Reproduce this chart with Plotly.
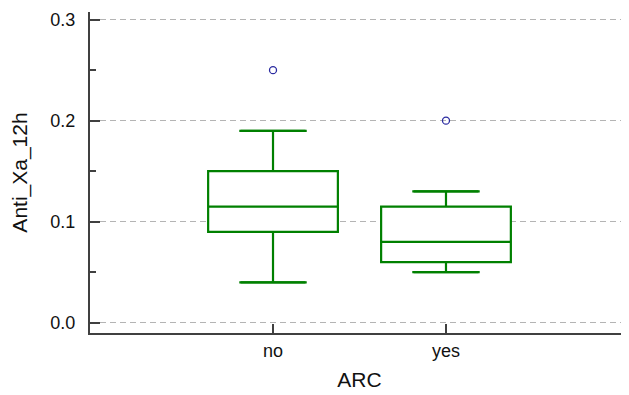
import plotly.graph_objects as go

categories = ["no", "yes"]
lower_whisker = [0.04, 0.05]
q1 = [0.09, 0.06]
median = [0.115, 0.08]
q3 = [0.15, 0.115]
upper_whisker = [0.19, 0.13]
outliers = [[0.25], [0.20]]

y_tickvals = [0.0, 0.1, 0.2, 0.3]
y_ticktext = ["0.0", "0.1", "0.2", "0.3"]

GREEN = "#008000"
AXIS = "#404040"
FONT = "Liberation Sans, Arial, sans-serif"

xpos = list(range(len(categories)))
box_w = 0.75
cap_half = 0.195

fig = go.Figure()

fig.add_trace(go.Box(
    x=xpos, q1=q1, median=median, q3=q3,
    lowerfence=lower_whisker, upperfence=upper_whisker,
    width=box_w, fillcolor="white",
    line=dict(color=GREEN, width=2.2),
    boxpoints=False, hoverinfo="skip", showlegend=False,
))

cx, cy = [], []
for i, lo, hi in zip(xpos, lower_whisker, upper_whisker):
    for v in (lo, hi):
        cx += [i - cap_half, i + cap_half, None]
        cy += [v, v, None]
fig.add_trace(go.Scatter(x=cx, y=cy, mode="lines",
                         line=dict(color=GREEN, width=2.2),
                         hoverinfo="skip", showlegend=False))

ox, oy = [], []
for i, vals in zip(xpos, outliers):
    for v in vals:
        ox.append(i)
        oy.append(v)
fig.add_trace(go.Scatter(x=ox, y=oy, mode="markers",
                         marker=dict(symbol="circle-open", size=7,
                                     color="#2a2aa0", line=dict(width=1.3)),
                         hoverinfo="skip", showlegend=False))

fig.update_layout(
    width=621, height=387,
    margin=dict(l=82, r=0, t=4, b=62),
    paper_bgcolor="white", plot_bgcolor="white",
    font=dict(family=FONT, size=18, color="#111111"),
    showlegend=False,
)

fig.update_xaxes(
    range=[-1.058, 2.058],
    tickvals=xpos, ticktext=categories,
    showgrid=False, zeroline=False,
    showline=True, linecolor=AXIS, linewidth=2,
    ticks="inside", ticklen=9, tickwidth=2, tickcolor=AXIS,
    title=dict(text="ARC", font=dict(size=21, family=FONT), standoff=13),
    tickfont=dict(size=18, family=FONT),
)

fig.update_yaxes(
    range=[-0.0102, 0.3076],
    tickvals=y_tickvals, ticktext=y_ticktext,
    showgrid=True, gridcolor="#b4b4b4", gridwidth=1, griddash="6px,4px",
    zeroline=False,
    showline=True, linecolor=AXIS, linewidth=2,
    ticks="inside", ticklen=10, tickwidth=2, tickcolor=AXIS,
    ticklabelstandoff=9,
    minor=dict(tickvals=[0.05, 0.15, 0.25], ticks="inside", ticklen=6,
               tickwidth=1.5, tickcolor=AXIS, showgrid=False),
    title=dict(text="Anti_Xa_12h", font=dict(size=21, family=FONT), standoff=18),
    tickfont=dict(size=18, family=FONT),
)

fig.write_html("out.html")
